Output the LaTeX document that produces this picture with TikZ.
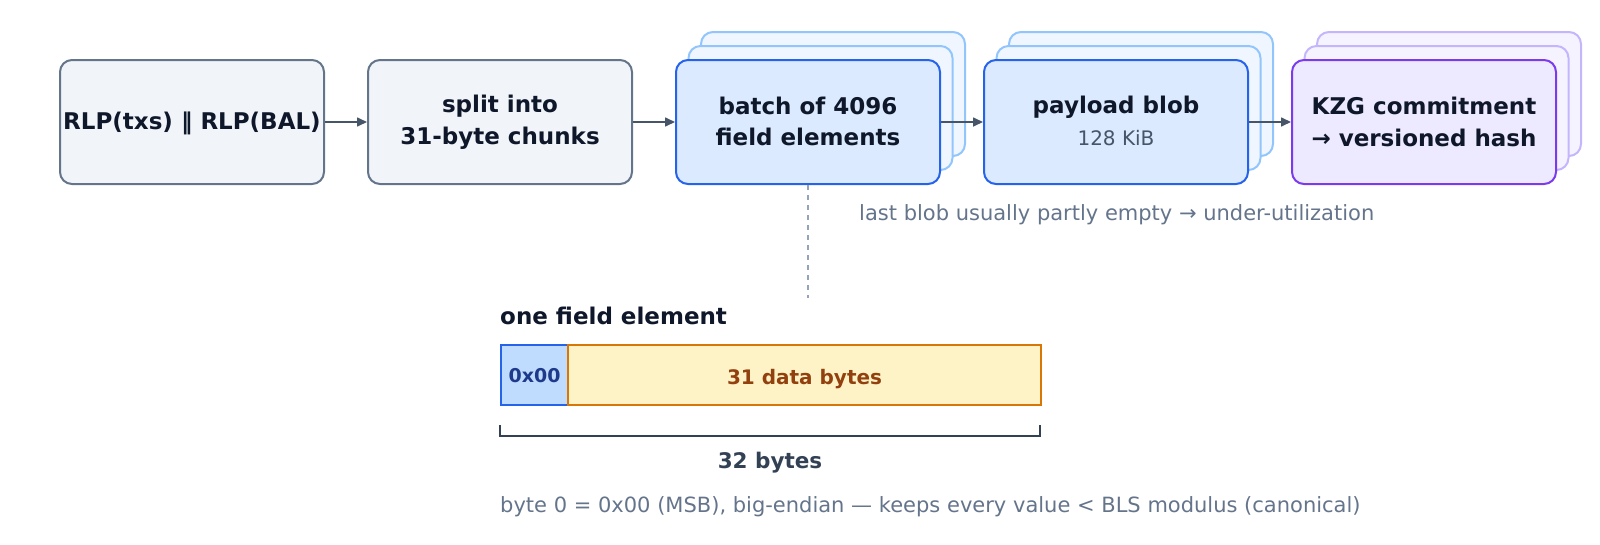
\documentclass[tikz,border=0pt]{standalone}
\usepackage{fontspec}
\setmainfont{DejaVu Sans}
\usetikzlibrary{arrows.meta}
\definecolor{slateA}{HTML}{0F172A}
\definecolor{slateB}{HTML}{334155}
\definecolor{slateC}{HTML}{475569}
\definecolor{slateD}{HTML}{64748B}
\definecolor{slateE}{HTML}{94A3B8}
\definecolor{slateF}{HTML}{F1F5F9}
\definecolor{blueA}{HTML}{EFF6FF}
\definecolor{blueB}{HTML}{DBEAFE}
\definecolor{blueC}{HTML}{BFDBFE}
\definecolor{blueD}{HTML}{93C5FD}
\definecolor{blueE}{HTML}{2563EB}
\definecolor{blueF}{HTML}{1E3A8A}
\definecolor{vioA}{HTML}{F5F3FF}
\definecolor{vioB}{HTML}{EDE9FE}
\definecolor{vioC}{HTML}{C4B5FD}
\definecolor{vioD}{HTML}{7C3AED}
\definecolor{ambA}{HTML}{FEF3C7}
\definecolor{ambB}{HTML}{D97706}
\definecolor{ambC}{HTML}{92400E}
\tikzset{
  boxbase/.style={rectangle, rounded corners=12pt, minimum width=264pt, minimum height=124pt,
    line width=2pt, align=center, inner sep=2pt, text=slateA,
    font=\fontsize{23}{31.6}\selectfont\bfseries},
  greybox/.style={boxbase, draw=slateD, fill=slateF},
  bluebox/.style={boxbase, draw=blueE, fill=blueB},
  blueback/.style={boxbase, draw=blueD, fill=blueA},
  viobox/.style={boxbase, draw=vioD, fill=vioB},
  vioback/.style={boxbase, draw=vioC, fill=vioA},
  flow/.style={draw=slateC, line width=1.6pt, -{Triangle[length=10pt,width=9pt]}},
  notetext/.style={text=slateD, font=\fontsize{21}{24}\selectfont, inner sep=0pt},
}
\begin{document}
\begin{tikzpicture}[x=1pt,y=-1pt]
\useasboundingbox (0,0) rectangle (1600,544);
% back layers
\node[blueback] (b3c) at (833,94) {};
\node[blueback] (b3b) at (820.5,108) {};
\node[blueback] (b4c) at (1141,94) {};
\node[blueback] (b4b) at (1128.5,108) {};
\node[vioback] (b5c) at (1449,94) {};
\node[vioback] (b5b) at (1436.5,108) {};
% main boxes
\node[greybox, text height=15.6pt, text depth=0pt] (b1) at (192,122) {RLP(txs) ‖ RLP(BAL)};
\node[greybox] (b2) at (500,122) {split into\\31-byte chunks};
\node[bluebox] (b3) at (808,122) {\raisebox{1.5pt}{batch of 4096}\\\raisebox{1.5pt}{field elements}};
\node[bluebox] (b4) at (1116,122) {\raisebox{2pt}{payload blob}\\{\fontsize{20}{24}\selectfont\mdseries\color{slateC}\raisebox{2pt}{128 KiB}}};
\node[viobox] (b5) at (1424,122) {KZG commitment\\→ versioned hash};
\draw[flow] (b1.east) -- (b2.west);
\draw[flow] (b2.east) -- (b3.west);
\draw[flow] (b3.east) -- (b4.west);
\draw[flow] (b4.east) -- (b5.west);
\node[notetext, anchor=west] (note) at (859,215) {last blob usually partly empty → under-utilization};
% dashed link
\coordinate (dl) at (808,298);
\draw[slateE, line width=1.5pt, dash pattern=on 5pt off 5pt] (b3.south) -- (dl);
% field element
\node[anchor=west, inner sep=0pt, text=slateA, font=\fontsize{23}{28}\selectfont\bfseries] (fetitle) at (500,316) {one field element};
\node[draw=blueE, fill=blueC, line width=2pt, minimum width=67pt, minimum height=60pt, inner sep=0pt,
  text height=14.8pt, text depth=0pt,
  text=blueF, font=\fontsize{19}{23}\selectfont\bfseries, anchor=north west] (fe0) at (500,344) {0x00};
\node[draw=ambB, fill=ambA, line width=2pt, minimum width=473pt, minimum height=60pt, inner sep=0pt,
  text height=18.6pt, text depth=0pt,
  text=ambC, font=\fontsize{20}{24}\selectfont\bfseries, anchor=north west] (fe1) at (567,344) {31 data bytes};
% bracket
\coordinate (bl) at (500,425);
\coordinate (br) at (1040,425);
\draw[slateB, line width=2pt] (bl) -- (500,436) -- (1040,436) -- (br);
\node[text=slateB, font=\fontsize{21.5}{26}\selectfont\bfseries, inner sep=0pt] (sz) at (770,463) {32 bytes};
\node[notetext, anchor=west] (cap) at (500,507) {byte 0 = 0x00 (MSB), big-endian — keeps every value < BLS modulus (canonical)};
\end{tikzpicture}
\end{document}
